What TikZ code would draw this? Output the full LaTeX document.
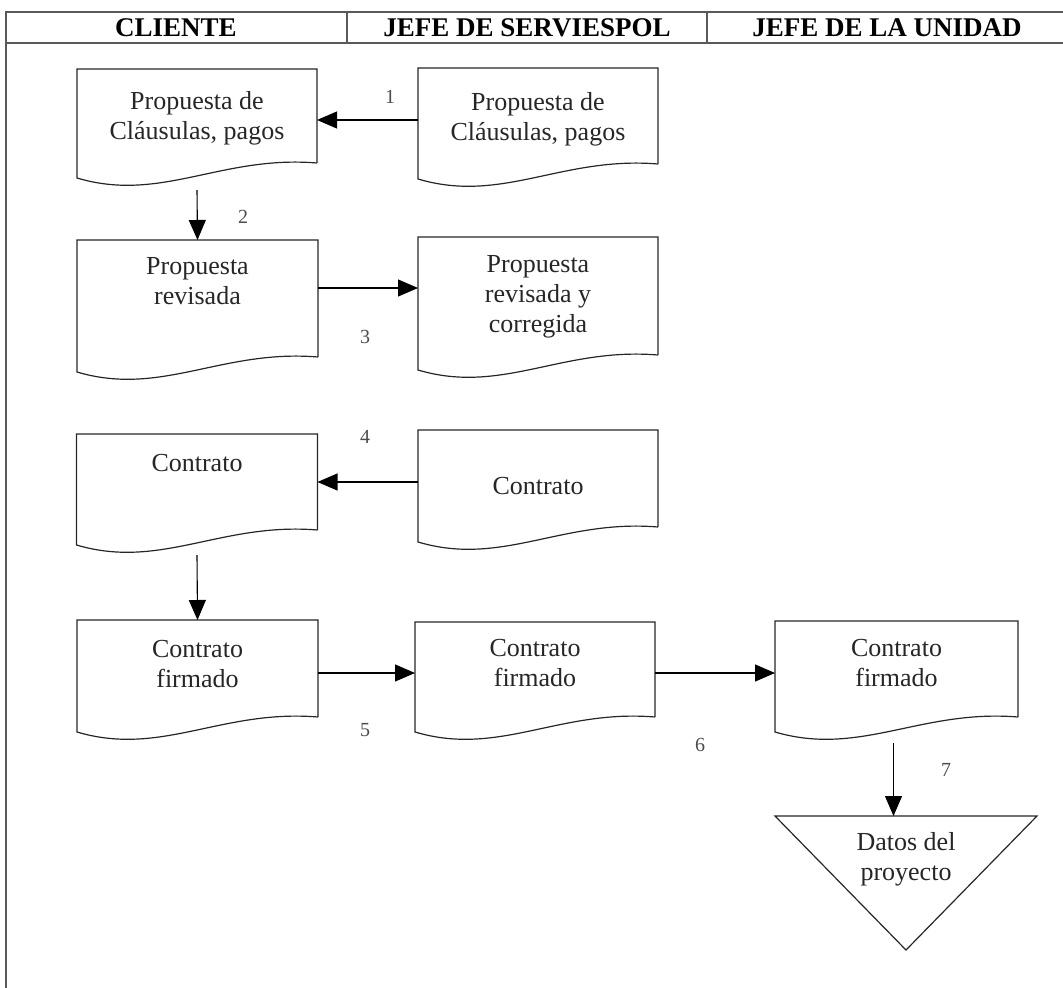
\documentclass[tikz,border=0pt]{standalone}
\usepackage{fontspec}
\setmainfont{Liberation Serif}
\usetikzlibrary{arrows.meta,calc}
\newcommand\drawdoc[1]{%
  \draw[boxline] (#1.south east) -- (#1.north east) -- (#1.north west) -- ($(#1.south west)+(0,15)$)
    .. controls ($(#1.south west)!0.35!(#1.south east)+(0,40)$) and ($(#1.south west)!0.6!(#1.south east)+(0,-8)$) .. (#1.south east);}
\begin{document}
\begin{tikzpicture}[x=1pt,y=-1pt,
  docbox/.style={draw=none,rectangle,inner sep=0pt,outer sep=0pt},
  boxline/.style={line width=1.2pt,line join=miter,black!85},
  doctext/.style={font=\fontsize{26}{30}\selectfont,align=center,inner sep=0pt,anchor=north,text=black!85},
  head/.style={font=\bfseries\fontsize{27}{30}\selectfont,inner sep=0pt},
  arr/.style={-{Triangle[length=20pt,width=17pt]},line width=1.1pt},
  lbl/.style={font=\fontsize{20}{24}\selectfont,inner sep=0pt,text=black!70}]
\useasboundingbox (0,0) rectangle (1063,988);
% frame
\draw[line width=1.3pt,black!65] (6,988) -- (6,12) -- (1063,12) (6,43) -- (1063,43);
\draw[line width=1.1pt,black!65] (347,12) -- (347,43) (707,12) -- (707,43);
\node[head] (h1) at (176,28) {CLIENTE};
\node[head] (h2) at (527,28) {JEFE DE SERVIESPOL};
\node[head] (h3) at (887,28) {JEFE DE LA UNIDAD};
% boxes
\node[docbox,minimum width=240pt,minimum height=94pt] (A) at (197,116) {};
\node[docbox,minimum width=240pt,minimum height=96pt] (A1) at (538,116) {};
\node[docbox,minimum width=241pt,minimum height=117pt] (B) at (197.5,298.5) {};
\node[docbox,minimum width=240pt,minimum height=118pt] (B1) at (538,296) {};
\node[docbox,minimum width=241pt,minimum height=96pt] (C) at (197,482) {};
\node[docbox,minimum width=240pt,minimum height=97pt] (C1) at (538,478.5) {};
\node[docbox,minimum width=241pt,minimum height=97pt] (D) at (197.5,668.5) {};
\node[docbox,minimum width=240pt,minimum height=95pt] (D1) at (535,669.5) {};
\node[docbox,minimum width=243pt,minimum height=96pt] (E) at (896.5,669) {};
\node[docbox,minimum width=262pt,minimum height=134pt] (T) at (906,883) {};
\foreach \n in {A,A1,B,B1,C,C1,D,D1,E} {\drawdoc{\n}}
\draw[boxline] (T.north west) -- (T.north east) -- (T.south) -- cycle;
% texts
\node[doctext] (tA) at ($(A.north)+(0,22)$) {Propuesta de\\Cláusulas, pagos};
\node[doctext] (tA1) at ($(A1.north)+(0,24)$) {Propuesta de\\Cláusulas, pagos};
\node[doctext] (tB) at ($(B.north)+(0,17)$) {Propuesta\\revisada};
\node[doctext] (tB1) at ($(B1.north)+(0,18)$) {Propuesta\\revisada y\\corregida};
\node[doctext] (tC) at ($(C.north)+(0,20)$) {Contrato};
\node[doctext] (tC1) at ($(C1.north)+(0,47)$) {Contrato};
\node[doctext] (tD) at ($(D.north)+(0,20)$) {Contrato\\firmado};
\node[doctext] (tD1) at ($(D1.north)+(0,17)$) {Contrato\\firmado};
\node[doctext] (tE) at ($(E.north)+(0,18)$) {Contrato\\firmado};
\node[doctext] (tT) at ($(T.north)+(0,16)$) {Datos del\\proyecto};
% connectors
\draw[arr] ($(A1.north west)+(0,52)$) coordinate (a1) -- (a1 -| A.east);
\draw[arr] ($(A.south)+(0,27)$) -- (B.north);
\draw[arr] ($(B.north east)+(0,48)$) coordinate (a3) -- (a3 -| B1.west);
\draw[arr] ($(C1.north west)+(0,52)$) coordinate (a4) -- (a4 -| C.east);
\draw[arr] ($(C.south)+(0,25)$) -- (D.north);
\draw[arr] ($(D.north east)+(0,53)$) coordinate (a5) -- (a5 -| D1.west);
\draw[arr] ($(D1.north east)+(0,51)$) coordinate (a6) -- (a6 -| E.west);
\draw[arr] ($(E.south)+(-3,26)$) coordinate (a7) -- (a7 |- T.north);
% labels
\node[lbl] (l1) at (390,97) {1};
\node[lbl] (l2) at (243,217) {2};
\node[lbl] (l3) at (365,337) {3};
\node[lbl] (l4) at (365,437) {4};
\node[lbl] (l5) at (365,730) {5};
\node[lbl] (l6) at (700,745) {6};
\node[lbl] (l7) at (946,770) {7};
\end{tikzpicture}
\end{document}
